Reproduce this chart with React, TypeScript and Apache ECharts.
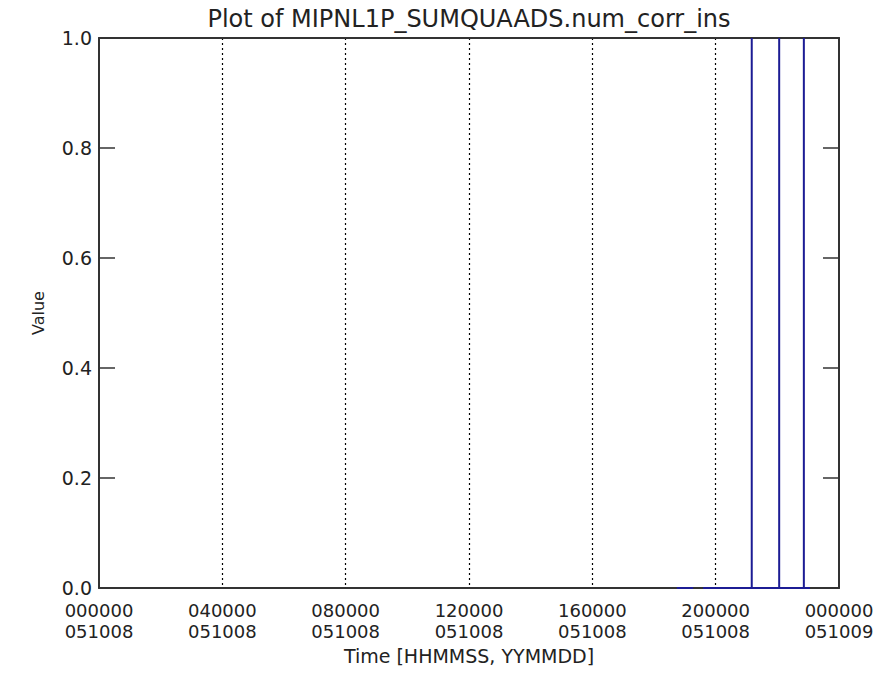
import React, { useEffect, useRef } from "react";
import * as echarts from "echarts";

const titleText = "Plot of MIPNL1P_SUMQUAADS.num_corr_ins";
const xAxisName = "Time [HHMMSS, YYMMDD]";
const yAxisName = "Value";
const xTickHours = [0, 4, 8, 12, 16, 20, 24];
const xTickTimes = ["000000", "040000", "080000", "120000", "160000", "200000", "000000"];
const xTickDates = ["051008", "051008", "051008", "051008", "051008", "051008", "051009"];
const yMin = 0;
const yMax = 1;
const yStep = 0.2;
// hours since 051008 000000; null marks a gap in the record
const sampleHours: (number | null)[] = [18.74, 19.27, null, 19.59, 21.17, 21.17, 21.17, 22.06, 22.06, 22.06, 22.86, 22.86, 22.86, 23.06];
const sampleValues: (number | null)[] = [0, 0, null, 0, 0, 1, 0, 0, 1, 0, 0, 1, 0, 0];

const FONT = "DejaVu Sans";

export default function App() {
  const ref = useRef<HTMLDivElement>(null);
  useEffect(() => {
    document.body.style.margin = "0";
    if (!ref.current) return;
    const chart = echarts.init(ref.current, undefined, { renderer: "svg" });
    const data = sampleHours.map((h, i) => {
      const v = sampleValues[i];
      return h === null || v === null ? ["-", "-"] : [h, v];
    });
    const labelFor = (v: number) => {
      const idx = xTickHours.indexOf(Math.round(v));
      return idx >= 0 ? xTickTimes[idx] + "\n" + xTickDates[idx] : "";
    };
    chart.setOption({
      animation: false,
      backgroundColor: "#ffffff",
      graphic: [
        {
          type: "text",
          x: 469,
          y: 19,
          style: {
            text: titleText,
            font: `24px "${FONT}"`,
            fill: "#222",
            textAlign: "center",
            textVerticalAlign: "middle",
          },
        },
      ],
      grid: { left: 99, right: 50, top: 38, bottom: 97, show: false },
      xAxis: [
        {
          type: "value",
          min: 0,
          max: 24,
          interval: 4,
          position: "bottom",
          name: xAxisName,
          nameLocation: "middle",
          nameGap: 58,
          nameTextStyle: { fontFamily: FONT, fontSize: 19, color: "#222" },
          axisLine: { show: true, onZero: false, lineStyle: { color: "#333", width: 2 } },
          axisTick: { show: false },
          splitLine: {
            show: true,
            showMinLine: false,
            showMaxLine: false,
            lineStyle: { color: "#000", width: 1.2, type: [2, 3] },
          },
          axisLabel: {
            formatter: labelFor,
            fontFamily: FONT,
            fontSize: 18,
            lineHeight: 21,
            color: "#222",
            margin: 12,
            showMinLabel: true,
            showMaxLabel: true,
          },
          z: 1,
        },
        {
          type: "value",
          min: 0,
          max: 24,
          interval: 4,
          position: "top",
          axisLine: { show: true, onZero: false, lineStyle: { color: "#333", width: 2 } },
          axisTick: { show: false },
          axisLabel: { show: false },
          splitLine: { show: false },
          z: 1,
        },
      ],
      yAxis: [
        {
          type: "value",
          min: yMin,
          max: yMax,
          interval: yStep,
          position: "left",
          name: yAxisName,
          nameLocation: "middle",
          nameGap: 53,
          nameTextStyle: { fontFamily: FONT, fontSize: 16, color: "#222" },
          axisLine: { show: true, onZero: false, lineStyle: { color: "#333", width: 2 } },
          axisTick: { show: true, inside: true, length: 16, lineStyle: { color: "#333", width: 1.5 } },
          axisLabel: {
            formatter: (v: number) => v.toFixed(1),
            fontFamily: FONT,
            fontSize: 19,
            color: "#222",
            margin: 7,
          },
          splitLine: { show: false },
          z: 1,
        },
        {
          type: "value",
          min: yMin,
          max: yMax,
          interval: yStep,
          position: "right",
          axisLine: { show: true, onZero: false, lineStyle: { color: "#333", width: 2 } },
          axisTick: { show: true, inside: true, length: 16, lineStyle: { color: "#333", width: 1.5 } },
          axisLabel: { show: false },
          splitLine: { show: false },
          z: 1,
        },
      ],
      series: [
        {
          type: "line",
          xAxisIndex: 0,
          yAxisIndex: 0,
          data,
          showSymbol: false,
          connectNulls: false,
          clip: false,
          lineStyle: { color: "#1c1c94", width: 2 },
          z: 10,
        },
      ],
    });
    return () => chart.dispose();
  }, []);
  return <div ref={ref} style={{ width: 889, height: 685 }} />;
}
